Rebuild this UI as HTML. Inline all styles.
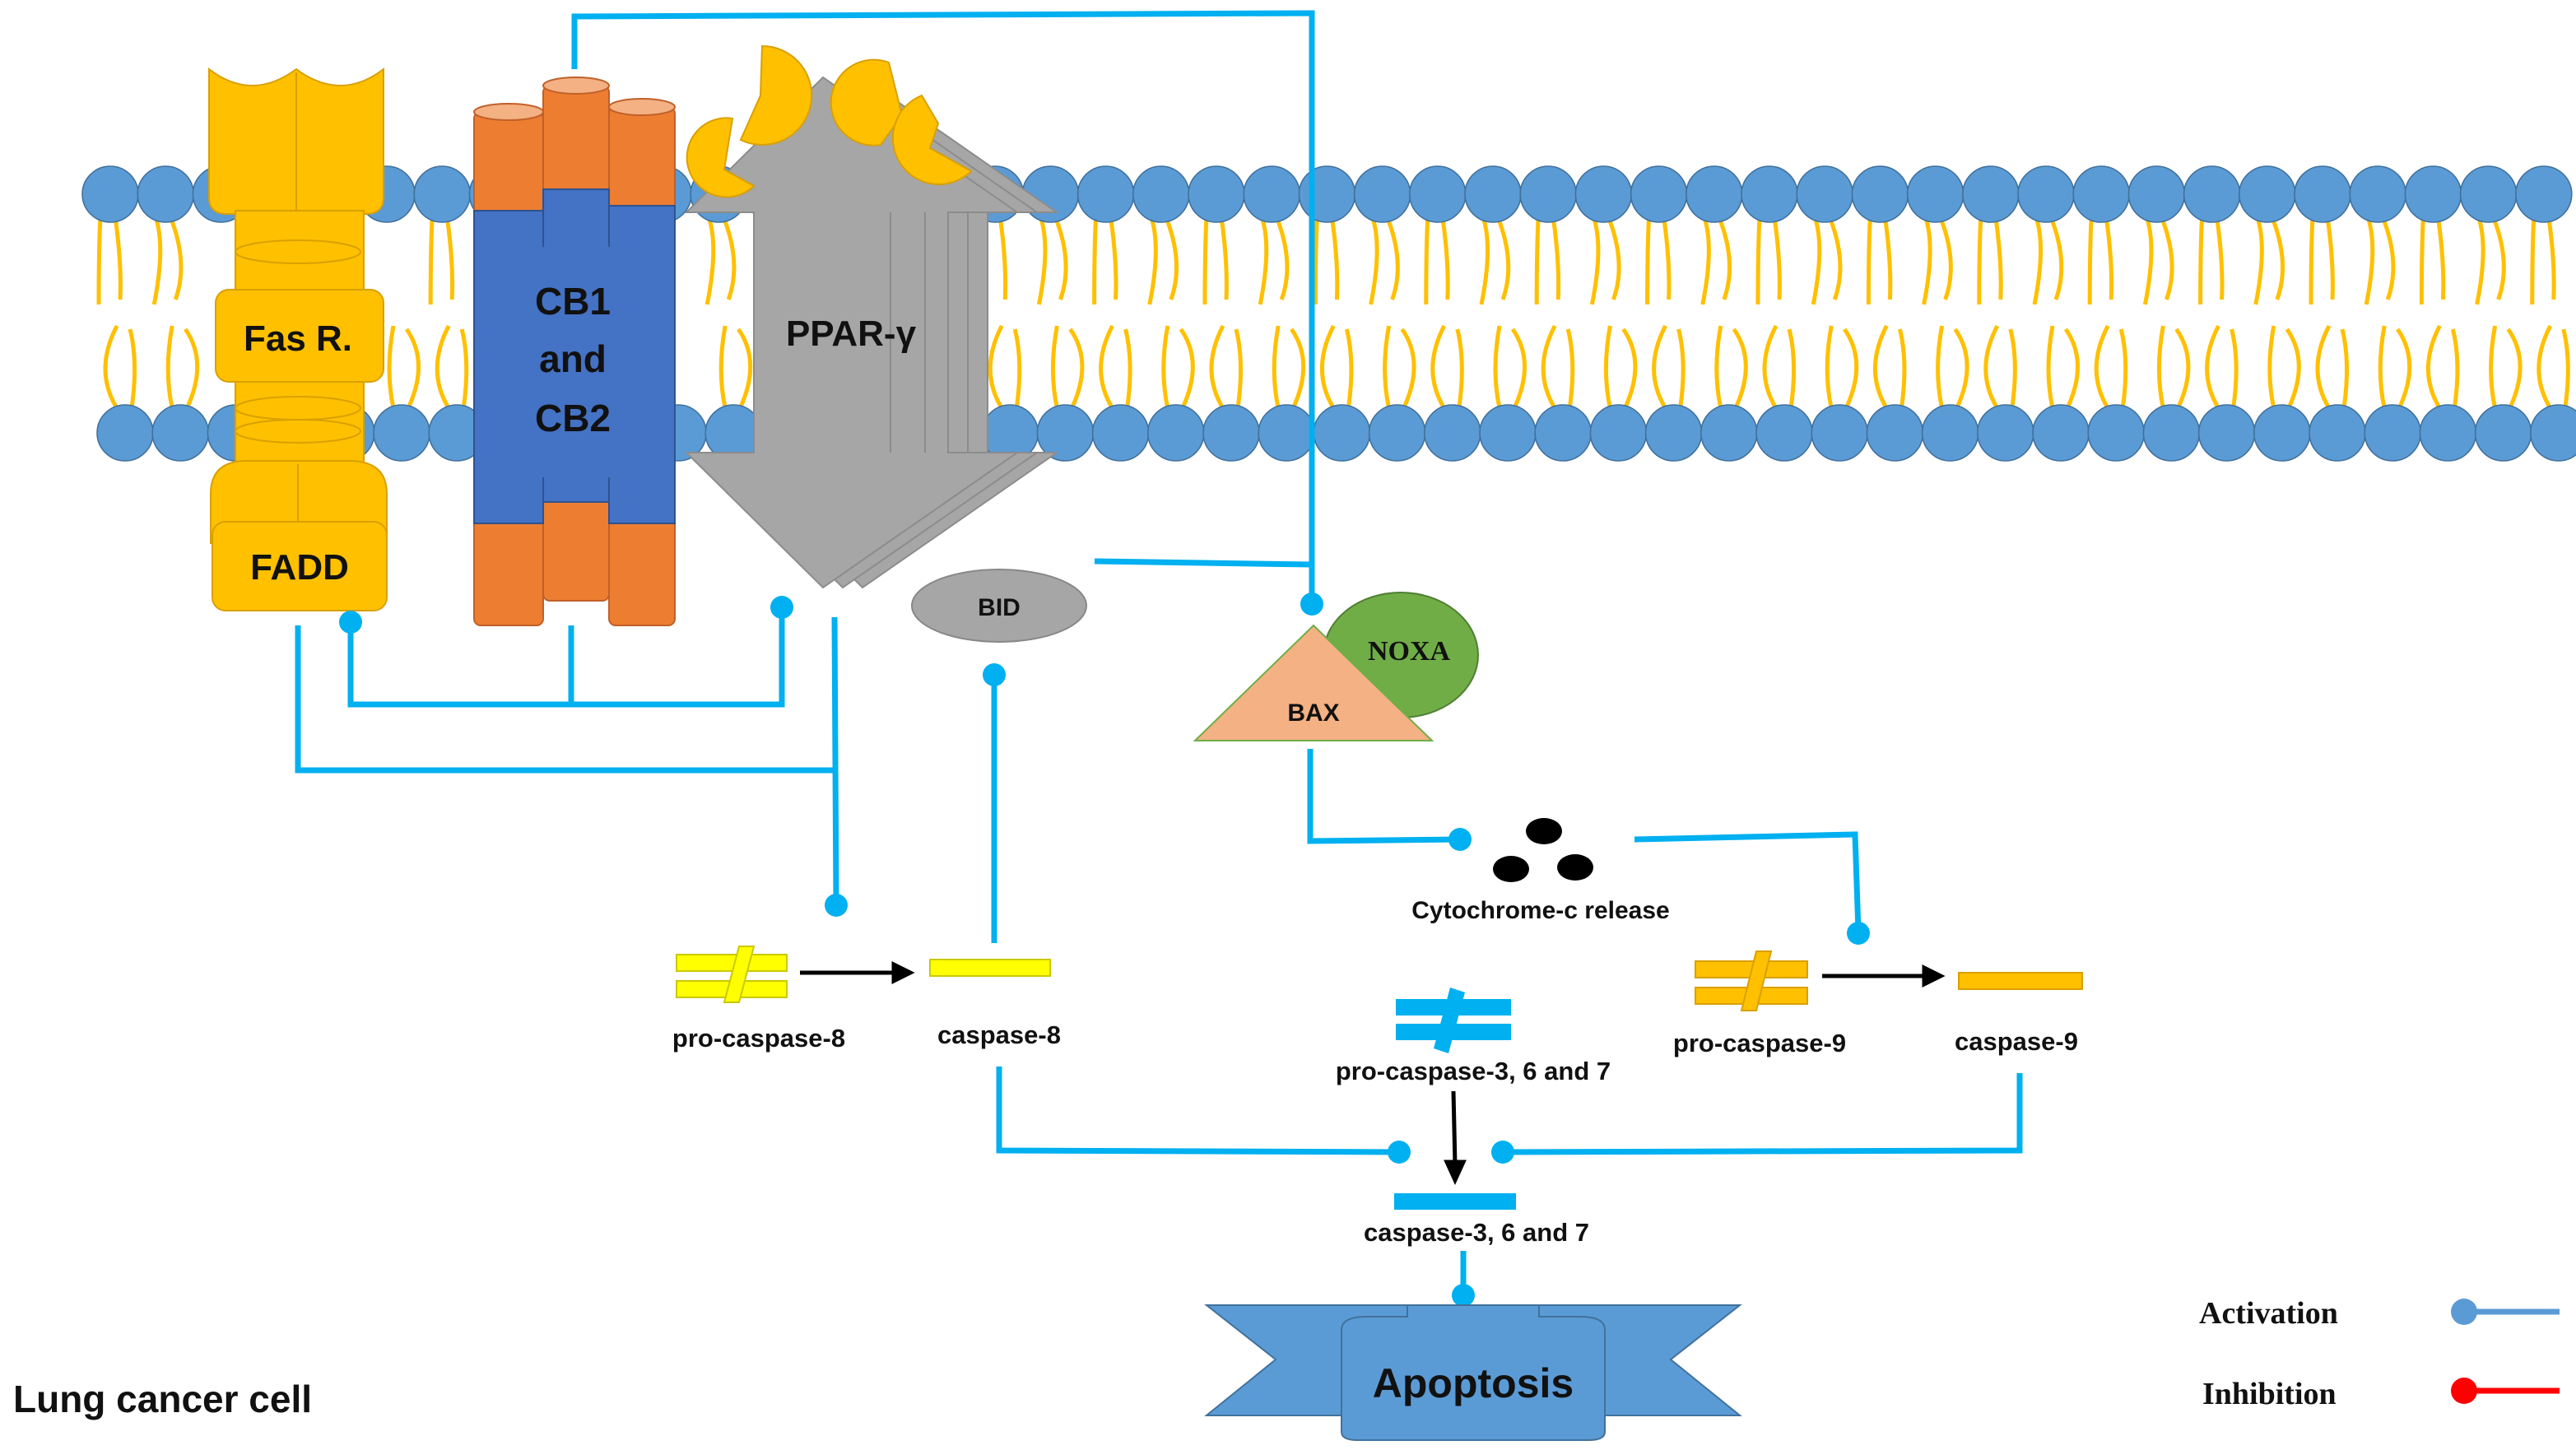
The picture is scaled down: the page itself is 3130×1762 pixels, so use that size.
<!DOCTYPE html>
<html><head><meta charset="utf-8"><style>
html,body{margin:0;padding:0;background:#fff;}
svg{display:block}
text{font-family:"Liberation Sans",sans-serif;font-weight:bold;}
</style></head><body>
<svg id="s" width="3130" height="1762" viewBox="0 0 1565 881" xmlns="http://www.w3.org/2000/svg">
<rect width="1565" height="881" fill="#fff"/>
<g id="mem"></g>

<!-- PPAR gamma double arrow (shadows then main) -->
<g stroke="#8c8c8c" stroke-width="1" fill="#a6a6a6">
<polygon points="500,47 618,129 576,129 576,275 618,275 500,357 417,275 458,275 458,129 417,129" transform="translate(24,0)"/>
<polygon points="500,47 618,129 576,129 576,275 618,275 500,357 417,275 458,275 458,129 417,129" transform="translate(12,0)"/>
<polygon points="500,47 618,129 576,129 576,275 618,275 500,357 417,275 458,275 458,129 417,129"/>
<line x1="541" y1="129" x2="541" y2="275"/><line x1="562" y1="129" x2="562" y2="275"/>
</g>
<text x="517" y="210" font-size="22" text-anchor="middle" fill="#111">PPAR-γ</text>
<!-- pacmen -->
<g fill="#ffc000" stroke="#d9a000" stroke-width="1">
<path d="M463,28 A30,30 0 1 1 450,85 L462,58 Z"/>
<path d="M450,64 A24,24 0 1 0 463,105 L445,95 Z" transform="translate(-5,8)"/>
<path d="M540,38 A26,26 0 1 0 535,88 L548,70 Z"/>
<path d="M560,58 A28,28 0 1 0 590,104 L565,90 L570,75 Z"/>
</g>

<!-- Fas R -->
<g fill="#ffc000" stroke="#d9a000" stroke-width="1">
<path d="M127,42 Q153,62 180,42 Q207,62 233,42 L233,120 Q233,130 222,130 L138,130 Q127,130 127,120 Z"/>
<line x1="180" y1="44" x2="180" y2="128"/>
<rect x="143" y="128" width="78" height="160"/>
<ellipse cx="181" cy="153" rx="38" ry="7"/>
<ellipse cx="181" cy="248" rx="38" ry="7"/>
<ellipse cx="181" cy="262" rx="38" ry="7"/>
<path d="M128,300 Q128,280 150,280 L212,280 Q235,280 235,300 L235,330 L128,330 Z"/>
<line x1="181" y1="282" x2="181" y2="320"/>
<rect x="131" y="176" width="102" height="56" rx="8"/>
<rect x="129" y="317" width="106" height="54" rx="8"/>
</g>
<text x="181" y="213" font-size="22" text-anchor="middle" fill="#111">Fas R.</text>
<text x="182" y="352" font-size="22" text-anchor="middle" fill="#111">FADD</text>

<!-- CB1/CB2 -->
<g stroke="#c0602a" stroke-width="1">
<rect x="288" y="68" width="42" height="312" rx="4" fill="#ed7d31"/>
<rect x="330" y="52" width="40" height="313" rx="4" fill="#ed7d31"/>
<rect x="370" y="65" width="40" height="315" rx="4" fill="#ed7d31"/>
<ellipse cx="309" cy="68" rx="21" ry="5" fill="#f4b183"/>
<ellipse cx="350" cy="52" rx="20" ry="5" fill="#f4b183"/>
<ellipse cx="390" cy="65" rx="20" ry="5" fill="#f4b183"/>
</g>
<g fill="#4472c4" stroke="#2f528f" stroke-width="1">
<rect x="288" y="128" width="42" height="190"/>
<rect x="330" y="115" width="40" height="190"/>
<rect x="370" y="125" width="40" height="193"/>
</g>
<rect x="289" y="150" width="120" height="140" fill="#4472c4"/>
<text x="348" y="191" font-size="23" text-anchor="middle" fill="#111">CB1</text>
<text x="348" y="226" font-size="23" text-anchor="middle" fill="#111">and</text>
<text x="348" y="262" font-size="23" text-anchor="middle" fill="#111">CB2</text>

<!-- BID -->
<ellipse cx="607" cy="368" rx="53" ry="22" fill="#a6a6a6" stroke="#888"/>
<text x="607" y="374" font-size="15" text-anchor="middle" fill="#111">BID</text>
<!-- NOXA / BAX -->
<ellipse cx="851" cy="398" rx="47" ry="38" fill="#70ad47" stroke="#507e32"/>
<polygon points="726,450 870,450 798,380" fill="#f4b183" stroke="#70ad47"/>
<text x="856" y="401" font-size="17" text-anchor="middle" fill="#111" style="font-family:'Liberation Serif',serif">NOXA</text>
<text x="798" y="438" font-size="15" text-anchor="middle" fill="#111">BAX</text>

<!-- connectors -->
<g stroke="#00b0f0" stroke-width="3.5" fill="none">
<polyline points="349,42 349,10 797,8 797,365"/>
<polyline points="181,380 181,468 507,468"/>
<polyline points="507,375 508,550"/>
<polyline points="213,378 213,428 475,428 475,370"/>
<line x1="347" y1="380" x2="347" y2="428"/>
<line x1="604" y1="410" x2="604" y2="573"/>
<line x1="665" y1="341" x2="797" y2="343"/>
<polyline points="796,455 796,511 887,510"/>
<polyline points="993,510 1127,507 1129,566"/>
<polyline points="607,648 607,699 850,700"/>
<polyline points="1227,652 1227,699 913,700"/>
<line x1="889" y1="760" x2="889" y2="787"/>
</g>
<g fill="#00b0f0">
<circle cx="797" cy="367" r="7"/><circle cx="213" cy="378" r="7"/><circle cx="475" cy="369" r="7"/>
<circle cx="508" cy="550" r="7"/><circle cx="604" cy="410" r="7"/><circle cx="887" cy="510" r="7"/>
<circle cx="1129" cy="567" r="7"/><circle cx="850" cy="700" r="7"/><circle cx="913" cy="700" r="7"/>
<circle cx="889" cy="787" r="7"/>
</g>

<!-- cytochrome -->
<g fill="#000"><ellipse cx="938" cy="505" rx="11" ry="8"/><ellipse cx="918" cy="528" rx="11" ry="8"/><ellipse cx="957" cy="527" rx="11" ry="8"/></g>
<text x="936" y="558" font-size="15" text-anchor="middle" fill="#111">Cytochrome-c release</text>

<!-- caspases -->
<g fill="#ffff00" stroke="#c9c900" stroke-width="1">
<rect x="411" y="580" width="67" height="10"/><rect x="411" y="596" width="67" height="10"/>
<polygon points="440,609 449,609 458,575 449,575"/>
<rect x="565" y="583" width="73" height="10"/>
</g>
<g fill="#ffc000" stroke="#d9a000" stroke-width="1">
<rect x="1030" y="584" width="68" height="10"/><rect x="1030" y="600" width="68" height="10"/>
<polygon points="1058,614 1067,614 1076,578 1067,578"/>
<rect x="1190" y="591" width="75" height="10"/>
</g>
<g fill="#00b0f0">
<rect x="848" y="607" width="70" height="10"/><rect x="848" y="622" width="70" height="10"/>
<polygon points="871,637 880,640 890,603 881,600"/>
<rect x="847" y="725" width="74" height="10"/>
</g>
<g stroke="#000" stroke-width="2.5" fill="#000">
<line x1="486" y1="591" x2="545" y2="591"/><polygon points="553,591 543,586 543,596"/>
<line x1="1107" y1="593" x2="1170" y2="593"/><polygon points="1179,593 1169,588 1169,598"/>
<line x1="883" y1="663" x2="884" y2="708"/><polygon points="884,717 879,706 889,706"/>
</g>
<g font-size="15.5" text-anchor="middle" fill="#111">
<text x="461" y="636">pro-caspase-8</text>
<text x="607" y="634">caspase-8</text>
<text x="1069" y="639">pro-caspase-9</text>
<text x="1225" y="638">caspase-9</text>
<text x="895" y="656">pro-caspase-3, 6 and 7</text>
<text x="897" y="754">caspase-3, 6 and 7</text>
</g>

<!-- Apoptosis banner -->
<g fill="#5b9bd5" stroke="#41719c" stroke-width="1">
<polygon points="733,793 855,793 855,860 733,860 775,826"/>
<polygon points="1057,793 935,793 935,860 1057,860 1015,826"/>
<path d="M815,808 Q815,800 830,800 L855,800 L855,793 L935,793 L935,800 L960,800 Q975,800 975,808 L975,870 Q975,875 965,875 L825,875 Q815,875 815,870 Z"/>
</g>
<text x="895" y="849" font-size="25" text-anchor="middle" fill="#111">Apoptosis</text>

<text x="8" y="858" font-size="23" fill="#111">Lung cancer cell</text>

<!-- legend -->
<g font-size="19" fill="#111">
<text x="1336" y="804" style="font-family:'Liberation Serif',serif">Activation</text>
<text x="1338" y="853" style="font-family:'Liberation Serif',serif">Inhibition</text>
</g>
<line x1="1497" y1="797" x2="1555" y2="797" stroke="#5b9bd5" stroke-width="3.5"/><circle cx="1497" cy="797" r="8" fill="#5b9bd5"/>
<line x1="1497" y1="845" x2="1555" y2="845" stroke="#ff0000" stroke-width="3.5"/><circle cx="1497" cy="845" r="8" fill="#ff0000"/>
</svg>
<script>
(function(){
var g=document.getElementById('mem'),h='';
function skip(x){return (x>120&&x<240)||(x>283&&x<415)||(x>455&&x<600);}
var xs=[];for(var x=67;x<1560;x+=33.6)xs.push(x);
xs.forEach(function(x,i){
 if(skip(x))return;
 var w=(i%2)?4:-3;
 h+='<path d="M'+(x-6)+',132 Q'+(x-4+w)+',150 '+(x-7)+',185 M'+(x+3)+',132 Q'+(x+10+w)+',160 '+(x+6)+',182" stroke="#ffc000" stroke-width="2.5" fill="none"/>';
});
var xs2=[];for(var x=76;x<1560;x+=33.6)xs2.push(x);
xs2.forEach(function(x,i){
 if(skip(x))return;
 var w=(i%2)?5:-4;
 h+='<path d="M'+(x-5)+',248 Q'+(x-15+w)+',225 '+(x-5)+',198 M'+(x+4)+',248 Q'+(x+12+w)+',220 '+(x+3)+',200" stroke="#ffc000" stroke-width="2.5" fill="none"/>';
});
xs.forEach(function(x){h+='<circle cx="'+x+'" cy="118" r="17" fill="#5b9bd5" stroke="#41719c" stroke-width="0.8"/>';});
xs2.forEach(function(x){h+='<circle cx="'+x+'" cy="263" r="17" fill="#5b9bd5" stroke="#41719c" stroke-width="0.8"/>';});
g.innerHTML=h;
})();
</script>
</body></html>
